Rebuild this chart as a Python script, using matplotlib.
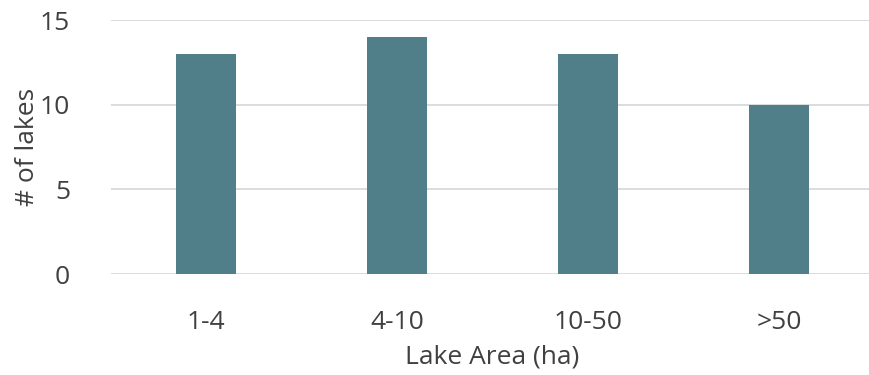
import matplotlib
matplotlib.use("Agg")
import matplotlib.pyplot as plt

categories = ["1-4", "4-10", "10-50", ">50"]
lake_counts = [13, 14, 13, 10]
y_ticks = [0, 5, 10, 15]

plt.rcParams["font.family"] = ["Open Sans", "DejaVu Sans"]
text_color = "#404040"
bar_color = "#507f8a"
grid_color = "#d9d9d9"
fs = 19

fig = plt.figure(figsize=(8.69, 3.75), dpi=100)
ax = fig.add_axes([110.5 / 869, 1 - 274 / 375, 764 / 869, (274 - 20) / 375])

x = range(len(categories))
ax.bar(x, lake_counts, width=0.314, color=bar_color, zorder=3)

ax.set_xlim(-0.5, len(categories) - 0.5)
ax.set_ylim(0, 15)
ax.set_yticks(y_ticks)
ax.set_xticks(list(x))
ax.set_xticklabels(categories)

ax.grid(axis="y", color=grid_color, linewidth=1.3, zorder=0)
ax.set_axisbelow(True)
for s in ax.spines.values():
    s.set_visible(False)

ax.tick_params(axis="both", length=0, labelsize=fs, colors=text_color)
ax.tick_params(axis="y", pad=29)
ax.tick_params(axis="x", pad=26)

ax.set_ylabel("# of lakes", fontsize=fs, color=text_color, labelpad=0)
ax.set_xlabel("Lake Area (ha)", fontsize=fs, color=text_color, labelpad=7)

fig.savefig("out.png", dpi=100)
